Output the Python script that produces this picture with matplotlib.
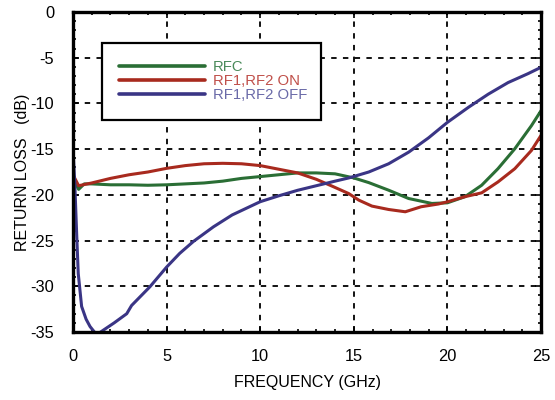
import matplotlib
matplotlib.use("Agg")
import matplotlib.pyplot as plt
from matplotlib.ticker import MultipleLocator

plt.rcParams['font.family'] = ['Liberation Sans', 'DejaVu Sans']
plt.rcParams['axes.unicode_minus'] = False

# ---- data ----
rfc_x = [0, 0.15, 0.3, 0.6, 1, 2, 3, 4, 5, 6, 7, 8, 9, 10, 11, 12, 13, 14, 15,
         15.8, 16.86, 17.93, 19.17, 20.0, 20.94, 21.83, 22.7, 23.6, 24.49, 25]
rfc_y = [-18.0, -18.8, -19.4, -18.8, -18.8, -18.9, -18.9, -18.95, -18.9, -18.8,
         -18.7, -18.5, -18.2, -18.0, -17.8, -17.6, -17.6, -17.7, -18.15,
         -18.66, -19.49, -20.4, -20.94, -20.87, -20.2, -18.95, -17.14, -14.96, -12.43, -10.8]

on_x = [0, 0.15, 0.3, 1, 2, 3, 4, 5, 6, 7, 8, 9, 10, 11, 12, 13, 13.9, 14.73,
        15.27, 15.97, 16.86, 17.75, 18.6, 19.52, 20.0, 20.94, 21.83, 22.7,
        23.6, 24.49, 25]
on_y = [-17.8, -18.4, -19.0, -18.7, -18.2, -17.8, -17.5, -17.1, -16.8, -16.6,
        -16.55, -16.6, -16.8, -17.2, -17.6, -18.3, -19.1, -19.86,
        -20.58, -21.23, -21.6, -21.85, -21.3, -21.0, -20.76, -20.2, -19.78, -18.59,
        -17.14, -15.14, -13.5]

off_x = [0, 0.1, 0.2, 0.28, 0.46, 0.7, 0.91, 1.26, 1.62, 2.2, 2.87, 3.13, 4.11,
         5.0, 5.7, 6.43, 7.5, 8.5, 10, 11, 12, 13, 14, 14.73, 15.8, 16.86,
         17.93, 18.99, 20.0, 21.12, 22.18, 23.24, 24.31, 25]
off_y = [-15.0, -19.0, -24.5, -28.6, -32.2, -33.6, -34.4, -35.3, -34.8, -34.0,
         -33.0, -32.1, -30.05, -27.9, -26.4, -25.1, -23.5, -22.2, -20.75, -20.1,
         -19.5, -19.0, -18.5, -18.15, -17.5, -16.6, -15.33, -13.77, -12.07,
         -10.43, -8.99, -7.72, -6.74, -6.05]

labels = ['RFC', 'RF1,RF2 ON', 'RF1,RF2 OFF']
line_colors = ['#2a6e35', '#a82a1e', '#3a3585']
text_colors = ['#4a8a5a', '#c0504a', '#6a6aa8']

x_ticks = [0, 5, 10, 15, 20, 25]
y_ticks = [0, -5, -10, -15, -20, -25, -30, -35]

fig = plt.figure(figsize=(5.55, 4.0), dpi=100)
ax = fig.add_axes([73/555, 68/400, 468/555, 320/400])

for xs, ys, c, lab in zip([rfc_x, on_x, off_x], [rfc_y, on_y, off_y], line_colors, labels):
    ax.plot(xs, ys, color=c, lw=2.2, label=lab, solid_capstyle='round')

ax.set_xlim(0, 25)
ax.set_ylim(-35, 0)
ax.set_xticks(x_ticks)
ax.set_yticks(y_ticks)
ax.xaxis.set_minor_locator(MultipleLocator(1))
ax.yaxis.set_minor_locator(MultipleLocator(1))
ax.tick_params(which='both', direction='in', top=True, right=True, width=1.2, colors='black')
ax.tick_params(which='major', length=4, labelsize=11.8)
ax.tick_params(which='minor', length=2.5)
ax.tick_params(axis='x', which='major', pad=12)
ax.tick_params(axis='y', which='major', pad=13.5)
ax.grid(True, which='major', color='black', linestyle=(0, (3, 3.5)), linewidth=1.3)

for s in ax.spines.values():
    s.set_linewidth(2.4)
    s.set_color('black')

ax.set_xlabel('FREQUENCY (GHz)', fontsize=11.5, labelpad=8)
ax.set_ylabel('RETURN LOSS   (dB)', fontsize=11.5, labelpad=0.5)

leg = ax.legend(loc='upper left', bbox_to_anchor=(0.061, 0.675, 0.468, 0.227),
                mode='expand', fontsize=10.7, handlelength=5.8, handletextpad=0.54,
                borderpad=1.15, labelspacing=0.0, borderaxespad=0,
                fancybox=False, framealpha=1, edgecolor='black',
                labelcolor=text_colors)
leg.get_frame().set_linewidth(1.6)
for h in leg.get_lines():
    h.set_linewidth(2.6)

fig.savefig('out.png', dpi=100)
